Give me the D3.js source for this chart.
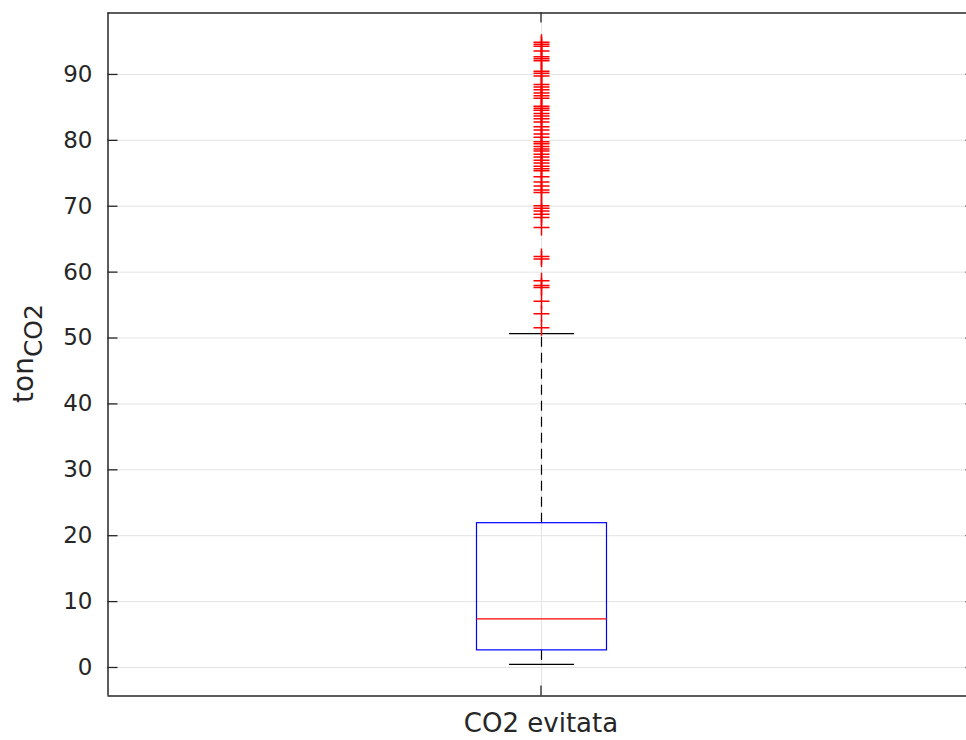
<!DOCTYPE html>
<html>
<head>
<meta charset="utf-8">
<script src="https://cdn.jsdelivr.net/npm/d3@7"></script>
<style>
  html, body { margin: 0; padding: 0; background: #ffffff; }
  svg { display: block; }
  text { font-family: "DejaVu Sans", "Liberation Sans", Arial, sans-serif; fill: #262626; }
</style>
</head>
<body>
<svg id="chart" width="966" height="740"></svg>
<script>
// Box-plot summary of avoided CO2 (tonnes)
const categories = ["CO2 evitata"];
const q1 = [2.6];
const median = [7.3];
const q3 = [21.9];
const whiskerLow = [0.4];
const whiskerHigh = [50.6];
const outliers = [
  94.8, 94.5, 94.2, 93.5, 92.6, 92.3, 92.0, 90.4, 90.1, 89.7,
  88.4, 88.0, 87.6, 87.1, 86.7, 86.3,
  85.1, 84.8, 84.5, 84.0, 83.6, 83.2, 82.7, 82.0, 81.5,
  80.9, 80.4, 79.7, 79.4, 79.0, 78.6, 78.3, 77.8, 77.4, 76.9,
  76.5, 76.0, 75.6, 75.3, 74.4, 73.6, 73.0, 72.4, 72.0,
  70.0, 69.6, 69.2, 68.7, 68.2, 66.7,
  62.3, 61.9, 58.6, 57.9, 57.6, 55.5, 53.6, 51.5
];
const yTicks = [0, 10, 20, 30, 40, 50, 60, 70, 80, 90];

const svg = d3.select("#chart");
const plotLeft = 107, plotRight = 975, plotTop = 12, plotBottom = 695;
const fontStack = "'DejaVu Sans', 'Liberation Sans', Arial, sans-serif";

const y = d3.scaleLinear().domain([-4.25, 99.4]).range([plotBottom, plotTop]);
const x = d3.scaleBand().domain(categories).range([plotLeft, plotRight]).padding(0.5);
const cx = c => x(c) + x.bandwidth() / 2;

// grid
const grid = svg.append("g");
grid.selectAll("line.h").data(yTicks).join("line")
  .attr("x1", plotLeft).attr("x2", plotRight)
  .attr("y1", d => y(d) + 0.5).attr("y2", d => y(d) + 0.5)
  .attr("stroke", "#e3e3e3").attr("stroke-width", 1);
grid.selectAll("line.v").data(categories).join("line")
  .attr("x1", d => Math.round(cx(d)) + 0.5).attr("x2", d => Math.round(cx(d)) + 0.5)
  .attr("y1", plotTop).attr("y2", plotBottom)
  .attr("stroke", "#e3e3e3").attr("stroke-width", 1);

// axes (ticks point inward)
const yAxisL = d3.axisLeft(y).tickValues(yTicks).tickSizeInner(-10).tickSizeOuter(0).tickPadding(15);
const gL = svg.append("g").attr("transform", `translate(${plotLeft + 0.5},0)`).call(yAxisL);
const yAxisR = d3.axisRight(y).tickValues(yTicks).tickSizeInner(-10).tickSizeOuter(0).tickFormat("");
const gR = svg.append("g").attr("transform", `translate(${plotRight + 0.5},0)`).call(yAxisR);
const xAxisB = d3.axisBottom(x).tickSizeInner(-10).tickSizeOuter(0).tickPadding(18);
const gB = svg.append("g").attr("transform", `translate(0,${plotBottom + 0.5})`).call(xAxisB);
const xAxisT = d3.axisTop(x).tickSizeInner(-10).tickSizeOuter(0).tickFormat("");
const gT = svg.append("g").attr("transform", `translate(0,${plotTop + 0.5})`).call(xAxisT);

[gL, gR, gB, gT].forEach(g => {
  g.select(".domain").attr("stroke", "#262626").attr("stroke-width", 1.5);
  g.selectAll(".tick line").attr("stroke", "#262626").attr("stroke-width", 1.3);
  g.selectAll(".tick text").attr("fill", "#262626").attr("font-family", fontStack);
});
gL.selectAll(".tick text").attr("font-size", 23);
gB.selectAll(".tick text").attr("font-size", 26);

// box elements
const boxW = 130, capW = 65;
const plot = svg.append("g");
categories.forEach((c, i) => {
  const xc = Math.round(cx(c)) + 0.5;
  // whiskers
  plot.append("line").attr("x1", xc).attr("x2", xc)
    .attr("y1", y(q3[i])).attr("y2", y(whiskerHigh[i]))
    .attr("stroke", "#000").attr("stroke-width", 1.2).attr("stroke-dasharray", "10,6");
  plot.append("line").attr("x1", xc).attr("x2", xc)
    .attr("y1", y(q1[i])).attr("y2", y(whiskerLow[i]))
    .attr("stroke", "#000").attr("stroke-width", 1.2).attr("stroke-dasharray", "10,6");
  // caps
  [whiskerHigh[i], whiskerLow[i]].forEach(v => {
    plot.append("line").attr("x1", xc - capW / 2).attr("x2", xc + capW / 2)
      .attr("y1", y(v)).attr("y2", y(v))
      .attr("stroke", "#000").attr("stroke-width", 1.2);
  });
  // box
  plot.append("rect").attr("x", xc - boxW / 2).attr("y", y(q3[i]))
    .attr("width", boxW).attr("height", y(q1[i]) - y(q3[i]))
    .attr("fill", "none").attr("stroke", "#0000ff").attr("stroke-width", 1.2);
  // median
  plot.append("line").attr("x1", xc - boxW / 2).attr("x2", xc + boxW / 2)
    .attr("y1", y(median[i])).attr("y2", y(median[i]))
    .attr("stroke", "#ff0000").attr("stroke-width", 1.2);
  // outliers as '+' markers
  const s = 8;
  plot.append("g").selectAll("path").data(outliers).join("path")
    .attr("d", v => `M${xc - s},${y(v)}H${xc + s}M${xc},${y(v) - s}V${y(v) + s}`)
    .attr("stroke", "#ff0000").attr("stroke-width", 1.5).attr("fill", "none");
});

// y-axis label with subscript
const yl = svg.append("text")
  .attr("transform", `translate(33,${(plotTop + plotBottom) / 2}) rotate(-90)`)
  .attr("text-anchor", "middle").attr("font-size", 28).attr("font-family", fontStack);
yl.append("tspan").text("ton");
yl.append("tspan").attr("dy", 9).attr("font-size", 25).text("CO2");
</script>
</body>
</html>
